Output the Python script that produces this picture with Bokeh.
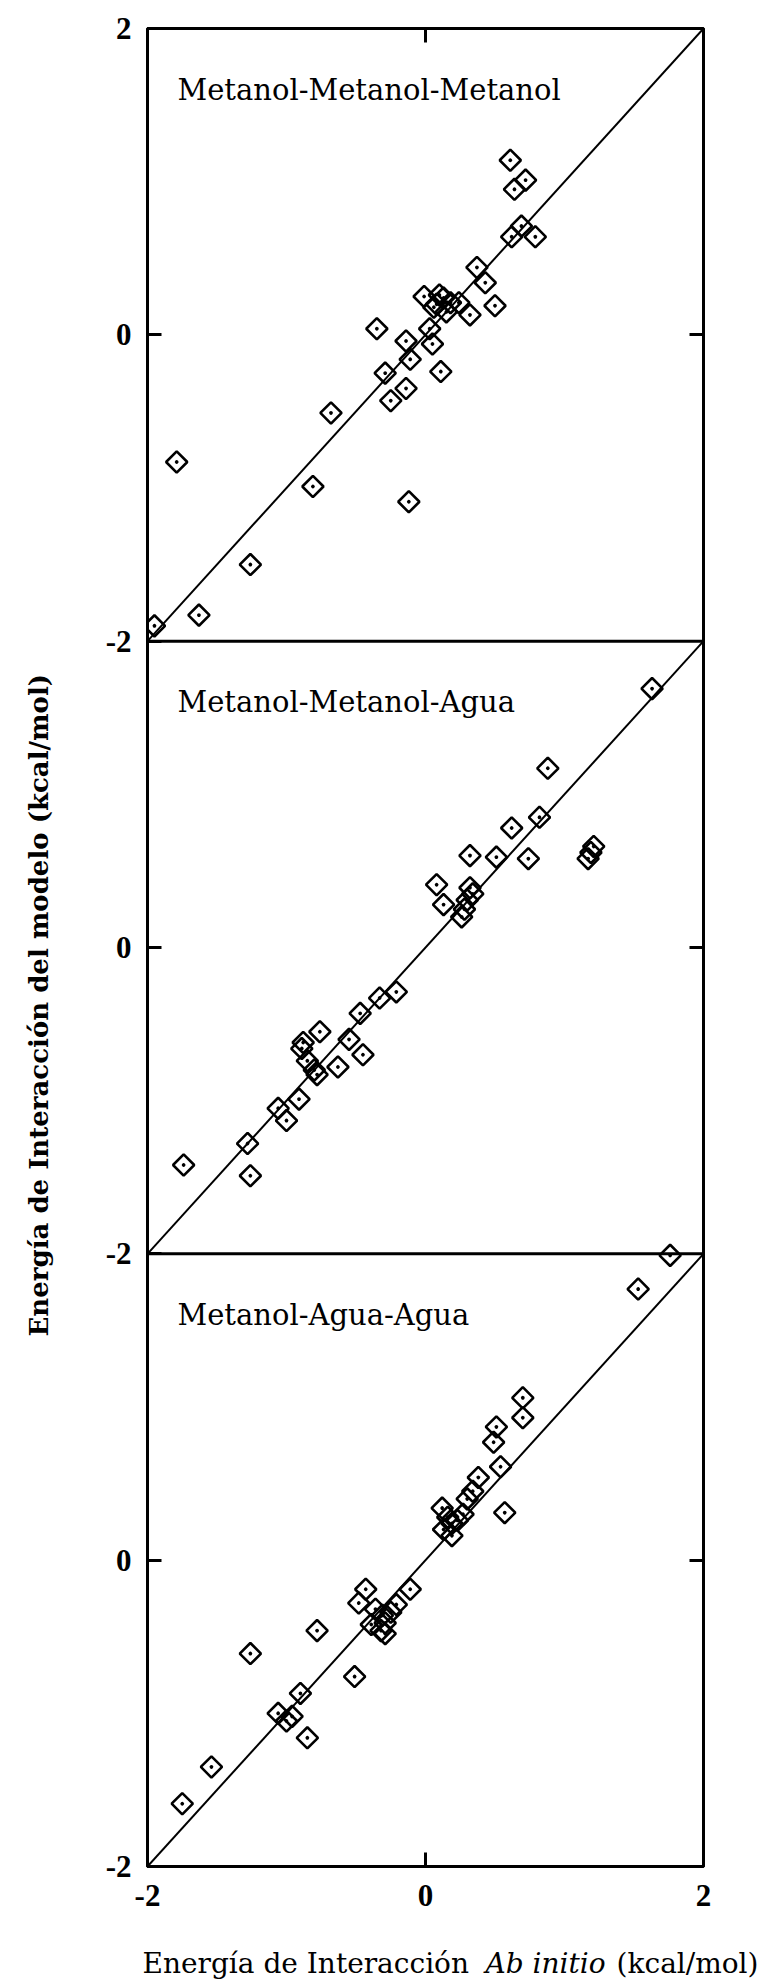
import numpy as np
from bokeh.plotting import figure
from bokeh.layouts import row, column
from bokeh.models import Range1d, FixedTicker, LinearAxis, Span, Label, ColumnDataSource
from bokeh.transform import dodge
from bokeh.core.properties import value
from bokeh.embed import file_html
from bokeh.resources import INLINE

# Energía ab initio (x) y del modelo (y), kcal/mol, para cada trímero
mmm_abinitio = [-1.95, -1.63, -1.26, -1.79, -0.81, -0.68, -0.12, -0.35, -0.14, 0.03,
                0.05, -0.11, 0.11, -0.29, -0.14, -0.25, 0.32, 0.50, -0.01, 0.10,
                0.13, 0.18, 0.24, 0.15, 0.08, 0.06, 0.37, 0.43, 0.61, 0.72,
                0.64, 0.69, 0.62, 0.79]
mmm_modelo = [-1.90, -1.83, -1.50, -0.83, -0.99, -0.51, -1.09, 0.04, -0.04, 0.04,
              -0.06, -0.16, -0.24, -0.25, -0.35, -0.43, 0.13, 0.19, 0.25, 0.26,
              0.24, 0.21, 0.21, 0.15, 0.20, 0.18, 0.44, 0.34, 1.14, 1.01,
              0.95, 0.71, 0.64, 0.64]

mma_abinitio = [1.63, 0.88, 0.82, 0.62, 0.32, 0.51, 0.74, 1.21, 1.17, 1.19,
                0.08, 0.13, 0.32, 0.34, 0.30, 0.26, 0.28, -0.21, -0.33, -0.47,
                -0.76, -0.45, -0.55, -0.63, -0.88, -0.89, -0.85, -0.78, -0.80, -0.91,
                -1.06, -1.00, -1.28, -1.26, -1.74]
mma_modelo = [1.69, 1.17, 0.85, 0.78, 0.60, 0.59, 0.58, 0.66, 0.58, 0.62,
              0.41, 0.28, 0.39, 0.35, 0.31, 0.20, 0.25, -0.29, -0.33, -0.43,
              -0.55, -0.70, -0.60, -0.78, -0.62, -0.66, -0.74, -0.83, -0.80, -0.99,
              -1.05, -1.13, -1.28, -1.49, -1.42]

maa_abinitio = [1.76, 1.53, 0.70, 0.70, 0.51, 0.49, 0.54, 0.38, 0.34, 0.30,
                0.12, 0.57, 0.16, 0.19, 0.23, 0.27, 0.13, 0.19, -0.11, -0.43,
                -0.48, -0.78, -1.26, -0.51, -0.90, -1.06, -0.96, -1.00, -0.85, -1.54,
                -1.75, -0.36, -0.31, -0.25, -0.29, -0.32, -0.29, -0.21, -0.39]
maa_modelo = [1.99, 1.77, 1.06, 0.93, 0.87, 0.77, 0.61, 0.54, 0.45, 0.40,
              0.34, 0.31, 0.28, 0.24, 0.26, 0.30, 0.20, 0.16, -0.19, -0.19,
              -0.28, -0.46, -0.61, -0.76, -0.87, -1.00, -1.02, -1.05, -1.16, -1.35,
              -1.59, -0.32, -0.36, -0.34, -0.41, -0.46, -0.48, -0.29, -0.42]

panel_names = ["Metanol-Metanol-Metanol", "Metanol-Metanol-Agua", "Metanol-Agua-Agua"]
axis_ticks = [-2, 0, 2]
tick_labels = ["-2", "0", "2"]
x_title = ["Energía de Interacción", "Ab initio", "(kcal/mol)"]
y_title = "Energía de Interacción del modelo (kcal/mol)"

series = [(mmm_abinitio, mmm_modelo), (mma_abinitio, mma_modelo), (maa_abinitio, maa_modelo)]

# ---- page geometry (pixels) ----
W, H = 767, 1987
YT_W = 70                # strip holding the vertical title
XT_H = 60                # strip holding the horizontal title
FRAME_L, FRAME_T = 147, 28
FRAME_W, FRAME_H = 556, 1838
FRAME_B = FRAME_T + FRAME_H
MAIN_W, MAIN_H = W - YT_W, H - XT_H

LO, HI = axis_ticks[0], axis_ticks[-1]
SPAN = HI - LO
n_panels = len(series)
offsets = [SPAN * (n_panels - 1) / 2 - SPAN * i for i in range(n_panels)]   # 4, 0, -4
Y_LO, Y_HI = LO - SPAN * (n_panels - 1) / 2, HI + SPAN * (n_panels - 1) / 2

SERIF = "DejaVu Serif"
DIGITS = "Liberation Serif"

p = figure(frame_width=FRAME_W, frame_height=FRAME_H,
           x_range=Range1d(LO, HI), y_range=Range1d(Y_LO, Y_HI),
           x_axis_location=None, y_axis_location=None,
           min_border_left=FRAME_L - YT_W, min_border_top=FRAME_T,
           min_border_right=MAIN_W - (FRAME_L - YT_W) - FRAME_W,
           min_border_bottom=MAIN_H - FRAME_B,
           output_backend="svg", toolbar_location=None)
p.grid.grid_line_color = None
p.background_fill_color = "white"
p.border_fill_color = "white"
p.outline_line_color = "black"
p.outline_line_width = 3

# y ticks: every panel gets -2, 0, 2; shared borders keep the upper panel's "-2"
y_ticks, y_over = [], {}
for off in offsets:
    for t, lab in zip(axis_ticks, tick_labels):
        v = float(off + t)
        if v not in y_over:
            y_ticks.append(v)
            y_over[v] = lab

def style_axis(ax):
    ax.axis_line_width = 3
    ax.axis_line_color = "black"
    ax.major_tick_line_width = 3
    ax.major_tick_line_color = "black"
    ax.major_tick_in = 14
    ax.major_tick_out = 0
    ax.minor_tick_line_color = None
    ax.major_label_text_font = DIGITS
    ax.major_label_text_font_style = "bold"
    ax.major_label_text_font_size = "31px"
    ax.major_label_text_color = "black"

left = LinearAxis(ticker=FixedTicker(ticks=y_ticks), major_label_overrides=y_over)
style_axis(left)
left.major_label_standoff = 16
p.add_layout(left, "left")

mid_ticks = [float(off) for off in offsets]
right = LinearAxis(ticker=FixedTicker(ticks=mid_ticks),
                   major_label_overrides={v: "" for v in mid_ticks})
style_axis(right)
p.add_layout(right, "right")

bottom = LinearAxis(ticker=FixedTicker(ticks=axis_ticks),
                    major_label_overrides={float(t): l for t, l in zip(axis_ticks, tick_labels)})
style_axis(bottom)
bottom.major_label_standoff = 18
p.add_layout(bottom, "below")

top = LinearAxis(ticker=FixedTicker(ticks=[0]), major_label_overrides={0.0: ""})
style_axis(top)
p.add_layout(top, "above")

# borders between the stacked panels
for a, b in zip(offsets[:-1], offsets[1:]):
    p.add_layout(Span(location=(a + b) / 2, dimension="width",
                      line_color="black", line_width=3))

diag = ColumnDataSource(dict(x=[LO, HI], y=[LO, HI]))
px_x = FRAME_W / SPAN
px_y = FRAME_H / (Y_HI - Y_LO)

for (xs, ys), off, name in zip(series, offsets, panel_names):
    p.line(x="x", y=dodge("y", off), source=diag, line_color="black", line_width=2)
    src = ColumnDataSource(dict(x=xs, y=ys))
    p.scatter(x="x", y=dodge("y", off), source=src, marker="square_dot",
              angle=np.pi / 4, size=15, line_color="black", line_width=2.6,
              fill_color=None)
    p.add_layout(Label(x=LO + 30 / px_x, y=off + HI - 61 / px_y, text=name,
                       text_font=SERIF, text_font_size="29px", text_color="black",
                       text_baseline="middle", text_align="left"))


def text_strip(width, height):
    """Blank figure whose data units are its own pixels (y up)."""
    f = figure(width=width, height=height, x_range=Range1d(0, width),
               y_range=Range1d(0, height), x_axis_location=None, y_axis_location=None,
               min_border=0, output_backend="svg", toolbar_location=None)
    f.grid.grid_line_color = None
    f.outline_line_color = None
    f.background_fill_color = "white"
    f.border_fill_color = "white"
    return f

# vertical title
yt = text_strip(YT_W, MAIN_H)
yt.text(x=[38], y=[MAIN_H - 1024], text=[y_title], angle=np.pi / 2,
        text_font=value(SERIF), text_font_style="bold", text_font_size="26px",
        text_color="black", text_align="center", text_baseline="middle")

# horizontal title with the italic "Ab initio", spanning the full page width
xt = text_strip(W, XT_H)
ty = H - 1963
for txt, sx, style, align in [(x_title[0], 142, "normal", "left"),
                              (x_title[1], 545, "italic", "center"),
                              (x_title[2], 758, "normal", "right")]:
    xt.text(x=[sx], y=[ty], text=[txt], text_font=value(SERIF),
            text_font_style=style, text_font_size="28px", text_color="black",
            text_align=align, text_baseline="middle")

page = column(row(yt, p, spacing=0), xt, spacing=0)
open("out.html", "w").write(file_html(page, INLINE))
